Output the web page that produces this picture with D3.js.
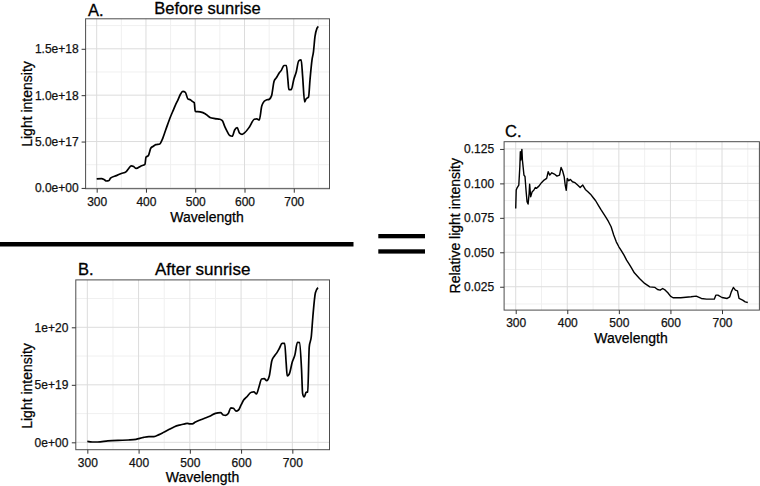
<!DOCTYPE html>
<html>
<head>
<meta charset="utf-8">
<script src="https://cdn.jsdelivr.net/npm/d3@7"></script>
<style>
  body { margin: 0; background: #fff; }
  text { font-family: "Liberation Sans", Arial, Helvetica, sans-serif; }
</style>
</head>
<body>
<script>
// wavelength axis shared by all three panels
var xTicks = [300, 400, 500, 600, 700];
var xMinor = [350, 450, 550, 650, 750];

// A. before sunrise
var aWave = [300, 310, 315, 320, 325, 328, 340, 350, 360, 365, 370, 375, 380, 390, 398, 400, 405, 410, 415, 420,
  428, 432, 440, 450, 455, 460, 465, 470, 475, 480, 485, 490, 495, 498, 500, 510, 520, 525, 530, 540,
  550, 555, 560, 565, 570, 575, 580, 585, 590, 595, 600, 610, 620, 625, 630, 635, 640, 645, 650, 655,
  660, 665, 670, 675, 680, 685, 688, 690, 695, 700, 705, 710, 715, 718, 722, 725, 730, 733, 737, 740,
  743, 747, 750];
var aIntensity = [0.97e17, 1.0e17, 0.9e17, 0.75e17, 0.8e17, 1.05e17, 1.33e17, 1.55e17, 1.76e17, 2.1e17,
  2.37e17, 2.3e17, 2.1e17, 2.37e17, 2.55e17, 3.3e17, 3.5e17, 4.3e17, 4.5e17, 4.67e17,
  4.74e17, 5.1e17, 6.25e17, 7.7e17, 8.33e17, 8.95e17, 9.5e17, 10.1e17, 10.4e17, 10.3e17,
  9.6e17, 9.5e17, 9.3e17, 9.2e17, 8.26e17, 8.2e17, 8.0e17, 7.8e17, 7.6e17, 7.47e17,
  7.4e17, 7.26e17, 6.6e17, 6.07e17, 5.64e17, 5.57e17, 6.25e17, 6.5e17, 5.9e17, 5.78e17,
  5.93e17, 6.57e17, 7.4e17, 7.44e17, 7.33e17, 8.84e17, 9.34e17, 9.5e17, 9.55e17, 9.95e17,
  11.5e17, 11.9e17, 12.36e17, 12.7e17, 13.2e17, 13.2e17, 11.7e17, 10.6e17, 10.6e17, 11.7e17,
  12.5e17, 13.7e17, 13.8e17, 12.0e17, 9.27e17, 9.6e17, 9.8e17, 11.7e17, 13.8e17, 14.7e17,
  16.3e17, 17.2e17, 17.4e17];
var aYTicks = [0, 5e17, 1e18, 1.5e18];
var aYLabels = ["0.0e+00", "5.0e+17", "1.0e+18", "1.5e+18"];
var aYMinor = [2.5e17, 7.5e17, 12.5e17, 17.5e17];

// B. after sunrise
var bWave = [300, 310, 320, 340, 360, 380, 395, 400, 410, 420, 430, 440, 450, 460, 470, 480, 490, 495, 500, 505,
  510, 520, 530, 540, 550, 560, 565, 570, 575, 580, 585, 590, 595, 600, 605, 610, 620, 625, 630, 635,
  640, 645, 650, 655, 660, 665, 670, 675, 680, 685, 688, 690, 694, 700, 705, 710, 714, 718, 720, 723,
  727, 730, 733, 737, 740, 745, 750];
var bIntensity = [0.09e19, 0.03e19, 0.03e19, 0.12e19, 0.17e19, 0.2e19, 0.26e19, 0.32e19, 0.43e19, 0.49e19,
  0.49e19, 0.67e19, 0.9e19, 1.13e19, 1.36e19, 1.5e19, 1.6e19, 1.65e19, 1.6e19, 1.6e19,
  1.74e19, 1.94e19, 2.12e19, 2.29e19, 2.52e19, 2.58e19, 2.38e19, 2.35e19, 2.5e19, 3.0e19,
  2.96e19, 2.72e19, 2.81e19, 3.25e19, 3.68e19, 3.9e19, 4.35e19, 4.38e19, 4.2e19, 4.84e19,
  5.5e19, 5.54e19, 5.36e19, 5.77e19, 7.1e19, 7.5e19, 7.8e19, 8.2e19, 8.6e19, 8.6e19,
  6.87e19, 5.77e19, 5.94e19, 7.0e19, 7.6e19, 8.7e19, 8.67e19, 6.3e19, 4.26e19, 3.94e19,
  4.35e19, 4.38e19, 8.3e19, 9.2e19, 10.9e19, 13.0e19, 13.45e19];
var bYTicks = [0, 5e19, 1e20];
var bYLabels = ["0e+00", "5e+19", "1e+20"];
var bYMinor = [2.5e19, 7.5e19, 12.5e19];

// C. relative intensity
var cWave = [300, 301, 303, 306, 308, 309, 310, 312, 313, 316, 318, 320, 322, 324, 326, 327, 329, 332, 335, 338,
  340, 345, 350, 355, 360, 363, 366, 370, 375, 380, 385, 388, 391, 394, 396, 398, 400, 403, 406, 410,
  415, 420, 425, 430, 435, 440, 445, 450, 455, 460, 465, 470, 475, 480, 485, 490, 495, 500, 505, 510,
  515, 520, 525, 530, 540, 550, 560, 570, 575, 580, 585, 590, 595, 600, 605, 620, 640, 650, 660, 670,
  680, 685, 688, 692, 700, 710, 715, 718, 722, 726, 730, 733, 740, 745, 750];
var cRelative = [0.0818, 0.0952, 0.097, 0.0988, 0.112, 0.123, 0.117, 0.1247, 0.117, 0.106,
  0.105, 0.095, 0.0867, 0.085, 0.0927, 0.0995, 0.0903, 0.094, 0.095, 0.097,
  0.0964, 0.098, 0.1005, 0.1024, 0.1036, 0.1085, 0.106, 0.1077, 0.1068, 0.1053,
  0.106, 0.1116, 0.109, 0.1048, 0.0988, 0.095, 0.1036, 0.1019, 0.1029, 0.1012,
  0.1005, 0.0988, 0.097, 0.0988, 0.0956, 0.094, 0.0922, 0.0898, 0.0874, 0.0843,
  0.0811, 0.0782, 0.0753, 0.0722, 0.0685, 0.0625, 0.0576, 0.054, 0.0511, 0.0479,
  0.0443, 0.0414, 0.0383, 0.0351, 0.031, 0.0274, 0.0249, 0.0245, 0.023, 0.0225,
  0.0237, 0.0225, 0.0206, 0.0182, 0.017, 0.017, 0.0177, 0.0182, 0.0165, 0.016,
  0.016, 0.016, 0.0189, 0.0189, 0.0172, 0.0165, 0.0177, 0.0213, 0.0245, 0.0225,
  0.022, 0.0165, 0.0153, 0.014, 0.0136];
var cYTicks = [0.025, 0.05, 0.075, 0.1, 0.125];
var cYLabels = ["0.025", "0.050", "0.075", "0.100", "0.125"];
var cYMinor = [0.0125, 0.0375, 0.0625, 0.0875, 0.1125];

var svg = d3.select("body").append("svg")
  .attr("width", 760)
  .attr("height", 486);

// ggplot style 5% expansion
function expand(ext) {
  var pad = (ext[1] - ext[0]) * 0.05;
  return [ext[0] - pad, ext[1] + pad];
}

function drawPanel(p) {
  var x = d3.scaleLinear()
    .domain(expand([d3.min(p.wave), d3.max(p.wave)]))
    .range([p.left, p.right]);
  var y = d3.scaleLinear()
    .domain(expand(d3.extent(p.values)))
    .range([p.bottom, p.top]);

  var g = svg.append("g");

  g.append("rect")
    .attr("x", p.left).attr("y", p.top)
    .attr("width", p.right - p.left).attr("height", p.bottom - p.top)
    .attr("fill", "#fff");

  // minor grid
  g.selectAll(".vminor").data(xMinor).enter().append("line")
    .attr("x1", d => x(d)).attr("x2", d => x(d))
    .attr("y1", p.top).attr("y2", p.bottom)
    .attr("stroke", "#f0f0f0").attr("stroke-width", 1);
  g.selectAll(".hminor").data(p.yMinor.filter(d => d > y.domain()[0] && d < y.domain()[1])).enter().append("line")
    .attr("x1", p.left).attr("x2", p.right)
    .attr("y1", d => y(d)).attr("y2", d => y(d))
    .attr("stroke", "#f0f0f0").attr("stroke-width", 1);

  // major grid
  g.selectAll(".vmajor").data(xTicks).enter().append("line")
    .attr("x1", d => x(d)).attr("x2", d => x(d))
    .attr("y1", p.top).attr("y2", p.bottom)
    .attr("stroke", "#dcdcdc").attr("stroke-width", 1);
  g.selectAll(".hmajor").data(p.yTicks).enter().append("line")
    .attr("x1", p.left).attr("x2", p.right)
    .attr("y1", d => y(d)).attr("y2", d => y(d))
    .attr("stroke", "#dcdcdc").attr("stroke-width", 1);

  var line = d3.line()
    .x((d, i) => x(p.wave[i]))
    .y(d => y(d))
    .curve(p.curve);

  g.append("path")
    .datum(p.values)
    .attr("d", line)
    .attr("fill", "none")
    .attr("stroke", "#000")
    .attr("stroke-width", p.lineWidth)
    .attr("stroke-linejoin", "round");

  g.append("rect")
    .attr("x", p.left).attr("y", p.top)
    .attr("width", p.right - p.left).attr("height", p.bottom - p.top)
    .attr("fill", "none")
    .attr("stroke", "#4d4d4d").attr("stroke-width", 1);

  var xAxis = g.append("g")
    .attr("transform", `translate(0, ${p.bottom})`)
    .call(d3.axisBottom(x).tickValues(xTicks).tickSize(4).tickPadding(4.5));
  var yAxis = g.append("g")
    .attr("transform", `translate(${p.left}, 0)`)
    .call(d3.axisLeft(y).tickValues(p.yTicks).tickSize(4)
      .tickPadding(p.yPad).tickFormat((d, i) => p.yLabels[i]));

  [xAxis, yAxis].forEach(function(a) {
    a.select(".domain").remove();
    a.selectAll("line").attr("stroke", "#333");
    a.selectAll("text")
      .attr("fill", "#111")
      .attr("stroke", "#111")
      .attr("stroke-width", 0.25)
      .style("font-size", "12px")
      .style("font-family", "\"Liberation Sans\", Arial, sans-serif");
  });

  g.append("text")
    .attr("x", p.xTitle[0]).attr("y", p.xTitle[1])
    .attr("text-anchor", "middle")
    .attr("stroke", "#000").attr("stroke-width", 0.25)
    .style("font-size", "14px")
    .text("Wavelength");

  g.append("text")
    .attr("transform", `translate(${p.yTitle[0]}, ${p.yTitle[1]}) rotate(-90)`)
    .attr("text-anchor", "middle")
    .attr("stroke", "#000").attr("stroke-width", 0.25)
    .style("font-size", "14px")
    .text(p.yName);

  g.append("text")
    .attr("x", p.letter[0]).attr("y", p.letter[1])
    .attr("stroke", "#000").attr("stroke-width", 0.3)
    .style("font-size", "16.5px")
    .text(p.letterText);

  if (p.title) {
    g.append("text")
      .attr("x", (p.left + p.right) / 2).attr("y", p.titleY)
      .attr("text-anchor", "middle")
      .attr("stroke", "#000").attr("stroke-width", 0.3)
      .style("font-size", p.titleSize)
      .text(p.title);
  }
}

drawPanel({
  wave: aWave, values: aIntensity, yTicks: aYTicks, yLabels: aYLabels, yMinor: aYMinor,
  left: 85.6, right: 329.5, top: 18.8, bottom: 188.7, yPad: 3,
  curve: d3.curveMonotoneX, lineWidth: 1.7,
  xTitle: [207, 221.7], yTitle: [31.5, 104], yName: "Light intensity",
  letter: [88, 15.5], letterText: "A.",
  title: "Before sunrise", titleY: 13.5, titleSize: "16.5px"
});

drawPanel({
  wave: bWave, values: bIntensity, yTicks: bYTicks, yLabels: bYLabels, yMinor: bYMinor,
  left: 75.8, right: 329.5, top: 279.9, bottom: 449.7, yPad: 3.5,
  curve: d3.curveMonotoneX, lineWidth: 1.7,
  xTitle: [202.5, 481.7], yTitle: [31.5, 386], yName: "Light intensity",
  letter: [78, 275], letterText: "B.",
  title: "After sunrise", titleY: 275, titleSize: "17px"
});

drawPanel({
  wave: cWave, values: cRelative, yTicks: cYTicks, yLabels: cYLabels, yMinor: cYMinor,
  left: 504.1, right: 759.4, top: 141.7, bottom: 310.1, yPad: 6,
  curve: d3.curveLinear, lineWidth: 1.4,
  xTitle: [631, 343.3], yTitle: [459.5, 225.7], yName: "Relative light intensity",
  letter: [505, 136.7], letterText: "C."
});

// fraction bar and equals sign
svg.append("rect").attr("x", 0).attr("y", 242).attr("width", 353.5).attr("height", 4.5).attr("fill", "#000");
svg.append("rect").attr("x", 378.3).attr("y", 234).attr("width", 46.7).attr("height", 4.3).attr("fill", "#000");
svg.append("rect").attr("x", 378.3).attr("y", 249.3).attr("width", 46.7).attr("height", 4.3).attr("fill", "#000");
</script>
</body>
</html>
